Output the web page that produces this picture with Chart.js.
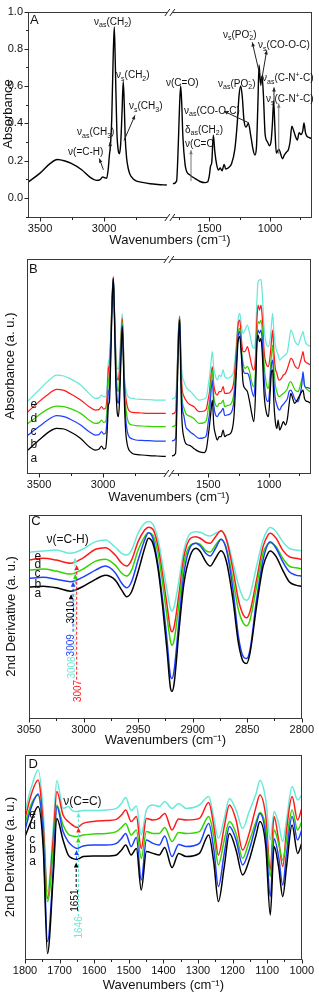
<!DOCTYPE html>
<html><head><meta charset="utf-8">
<script src="https://cdn.jsdelivr.net/npm/chart.js@4.4.0/dist/chart.umd.min.js"></script>
<style>
html,body{margin:0;padding:0;background:#fff;width:319px;height:992px;overflow:hidden;position:relative}
canvas{position:absolute;left:0}
</style></head><body>
<canvas id="cA" width="319" height="250" style="top:0px"></canvas>
<canvas id="cB" width="319" height="256" style="top:250px"></canvas>
<canvas id="cC" width="319" height="250" style="top:500px"></canvas>
<canvas id="cD" width="319" height="248" style="top:744px"></canvas>
<script>
// ---------------- DATA ----------------
const seriesNames = ['a','b','c','d','e'];
const seriesColors = ['#000000','#2040ff','#33d400','#ff1a1a','#66ead8'];

// Panels A and B: broken wavenumber axis (cm-1)
const wnAB_left = [3600,3500,3420,3365,3305,3260,3175,3110,3060,3030,3012,2995,2980,2968,2958,2950,2940,2930,2920,2912,2900,2890,2880,2870,2860,2850,2842,2835,2823,2810,2797,2770,2745,2700,2640,2580,2510];
const wnAB_right = [1800,1770,1755,1745,1736,1727,1718,1700,1686,1665,1645,1620,1577,1535,1515,1500,1490,1480,1467,1455,1440,1426,1410,1395,1378,1365,1345,1316,1290,1270,1255,1241,1228,1215,1198,1178,1160,1140,1125,1112,1100,1090,1078,1066,1055,1040,1020,1005,990,980,970,960,948,935,925,912,898,882,865,848,835,820,805,790,775,760,745,730,720,708,695,680,665,654];
const ticksAB = [3500,3250,3000,2750,1750,1500,1250,1000,750];
const labelsAB = [3500,3000,1500,1000];

// Panel A absorbance
const specA_left = [0.081,0.133,0.185,0.206,0.198,0.186,0.151,0.111,0.094,0.098,0.112,0.108,0.105,0.15,0.23,0.28,0.42,0.72,0.918,0.72,0.36,0.26,0.237,0.29,0.45,0.625,0.50,0.33,0.21,0.155,0.125,0.10,0.09,0.083,0.076,0.072,0.069];
const specA_right = [0.076,0.09,0.30,0.50,0.601,0.50,0.33,0.18,0.14,0.125,0.115,0.105,0.088,0.082,0.085,0.12,0.17,0.19,0.336,0.25,0.18,0.15,0.16,0.145,0.18,0.155,0.16,0.185,0.26,0.40,0.55,0.601,0.54,0.42,0.38,0.40,0.34,0.26,0.23,0.27,0.50,0.714,0.61,0.653,0.56,0.34,0.30,0.28,0.31,0.40,0.52,0.38,0.24,0.255,0.26,0.235,0.21,0.23,0.245,0.26,0.30,0.385,0.36,0.33,0.31,0.35,0.34,0.36,0.402,0.35,0.33,0.325,0.32,0.319];

// Panel B absorbance (a.u., stacked)
const specB_a_left = [10.7,16.5,20.7,22.3,22,20.7,17.3,13.2,11.5,12,13.5,12,12.3,20.7,34,35.7,55.7,82.3,97.3,80.7,44,30.7,28.2,37.3,57.3,73.2,59,39,20.7,14,11.5,9.8,9.3,9,8.7,8.5,8.3];
const specB_b_left = [18.2,23.2,27,28.7,28.2,27,24,20.7,19,19.3,20.7,19.5,19.8,27.3,40.7,42.3,60.7,84,97.3,82.3,49,37.3,34.8,44,60.7,74,60.7,42.3,27.3,20.7,18.2,17,16.5,16.3,16.2,16,16];
const specB_c_left = [24,29,32.3,33.5,33.2,32.3,29.8,26.5,24.8,25.2,26.5,25.3,25.7,32.3,46.5,48.2,64,84.8,97.3,83.2,54,43.2,40.7,49.8,64,75.7,63.2,45.7,33.2,27.3,24.8,24,23.7,23.5,23.3,23.2,23.2];
const specB_d_left = [29.8,35.7,39.8,41.8,41.3,39.8,36.5,33.2,31.5,31.8,33.2,32,32.3,39,52.3,54,67.3,86.5,98.2,84,57.3,47.3,46.5,54,66.5,77.3,65.7,49,38.2,33.2,31.2,30.3,30.2,30,29.8,29.8,29.8];
const specB_e_left = [35.2,41.5,46.5,49,48.5,47.3,44,39.8,37.3,37.7,39,38.2,38.2,44,55.7,57.3,69,85.7,97.3,84,60.7,52.3,52,59,70.7,79.8,67.3,50.7,42.3,39,37.8,37.3,37,36.8,36.7,36.5,36.5];
const specB_a_right = [8.5,9.8,44,67.3,76.5,47.3,27.3,17.3,14.8,14,13.5,12.3,10.7,10.2,12.3,19,24,29.8,36.5,24,19,16.5,18.2,18.2,21.5,18.2,19,19.8,27.3,49,65.7,68.2,59,45.7,42.3,40.7,35.7,29,25.7,38.2,64,69,65.7,67.3,59,39,29.8,28.2,40.7,50.7,51.5,35.7,25.7,22.3,26.5,21.5,23.2,25.7,24,27.3,34,39.8,37.3,34.8,35.7,37.3,39,40.7,41.5,37.3,36,35.7,35.2,34.8];
const specB_b_right = [16,17.3,47.3,69,77,54,35.7,28.2,23.2,21.5,20.3,19.3,17.3,17.7,19,25.7,29.8,39,46.5,34,29,28.2,29.8,30.7,32.3,28.7,29,29.8,35.7,53.2,68.2,70.7,60.7,52.3,49.8,49.8,47.3,40.7,38.2,47.3,65.7,71.5,69.8,71.5,65.7,47.3,36.5,35.7,45.7,54,56.5,45.7,37.3,34,32.3,31.5,33.2,34.3,35.7,37.3,40.7,41.5,39.8,37.3,36,35.7,39,44,50.7,44,42.7,42.7,42.3,42.3];
const specB_c_right = [23.2,24,50.7,70.7,77.3,55.7,39,32.3,29.8,28.7,28.2,27.3,24.8,25.2,26.5,32.3,35.7,44,51.5,38.2,34,33.2,34.8,34.8,36.5,33.2,33.7,34.3,39.8,55.7,69.8,72.3,62.3,55.7,52.3,53.2,50.7,44.8,43.2,50.7,69,75.7,74.8,76.5,70.7,54,44,42.3,50.7,59,64,52.3,44,40.7,38.7,38.2,39,39.8,40.7,42.3,44.8,45.7,44,42,41,40.7,43.2,46.5,48.2,44,42.3,41.5,40.7,40.2];
const specB_d_right = [29.5,30.7,54,72.3,78.2,59,44,38.2,36.5,34.8,34,33.2,30.7,31,32.3,37.3,40.7,47.3,53.2,44,39.8,39,40.7,40.7,43.2,39.8,39.8,40.7,45.7,60.7,74,76.5,67.3,60.7,60.7,63.2,59,53.2,51.5,57.3,75.7,84,81.5,84,77.3,60.7,54,53.2,59,65.7,71.5,60.7,52.3,49.8,47.3,46.5,47.3,49,49.8,52.3,54.8,57.3,56.5,54,52.7,52.3,54.8,58.2,60.7,56.5,55.3,54.8,54.3,54];
const specB_e_right = [37,38.2,55.7,72.3,78.7,64,50.7,45.7,43.2,41.5,40.7,39,36.5,37,38.2,44,48.2,54,60.7,52.3,48.2,46.5,49,48.2,51.5,48.2,47.3,48.2,51.5,64,76.5,79.8,74,69.8,71.5,74,69.8,64,62.3,66.5,85.7,95.7,96.5,96.8,89,72.3,64,63.2,67.3,74,79.8,70.7,64,60.7,59,56.5,57.3,58.2,59,60.7,65.7,71.5,69.8,66.5,64.8,64,66.5,69,70.7,67.3,64.8,64,63.5,63.2];

// Panel C: 2nd derivative, 3050-2800 cm-1
const wnC = [3050,3037,3025,3012,3001,2989,2980,2971,2965,2960.5,2956,2950,2944,2940.5,2936.5,2932,2927.5,2923.5,2920.5,2919,2917,2912.5,2908,2902,2897,2893,2888,2884,2879,2874,2869,2863,2858,2853.5,2850.5,2847.5,2841.5,2835.5,2831,2829,2823.5,2817.5,2811.5,2805.5,2800];
const specC_a = [65.2,65.8,65,63.3,65.5,69.2,71.2,68.8,63.8,60.5,63,73,84.7,89.7,87.2,75.5,55.5,33.8,15.5,13.3,17.2,43.8,67.2,81.3,84.7,83,78,75.8,79.7,83.5,78,58.8,37.2,28,27.2,32.2,55.5,75.5,82.2,83.3,80.5,73.8,68,66.3,65.8];
const specC_b = [69.7,70.2,69.2,68,70.2,73.8,75.8,72.5,67.2,65,68,78.8,88.8,92.5,89.7,77.2,58.8,38.8,21.3,19.7,23.8,48.8,72.2,85.5,87.2,85.8,82.2,80.8,84.7,89.2,83.8,63.8,40.5,30.5,29.7,33.8,58.8,78.8,86.8,88,84.7,78,73,71.3,70.8];
const specC_c = [73.8,74.3,73.3,71.8,74.2,78.3,79.2,76.3,72.2,70.8,73.8,83.8,90.5,92.5,91.3,83,67.2,50.5,38.8,36.3,38.8,57.2,77.2,86.3,87.2,86.7,83.5,82.8,86.3,89.2,84.7,68.8,53.8,47.2,46,48.8,65.5,82.2,86.8,87.5,85.5,79.7,75.8,75,74.5];
const specC_d = [78.8,79.7,78.8,77.2,79.7,84.2,85,81.3,77.2,75.8,78.8,88,93.8,95.2,94.2,86.3,71.3,56.3,44.7,43,45.5,62.2,80.5,89.7,90.5,89.7,87.7,87.2,90.5,93.5,88.8,73.8,58.8,51.3,50,53,68.8,85.5,91.3,92.2,89.7,83.8,80.5,79.7,79.2];
const specC_e = [82.7,83.3,83.8,82.2,84.2,88,88.8,85.2,82.2,81.3,83.8,92.2,97.2,98,96.8,89.7,76.3,63.8,54.7,53.3,55.5,68.8,83.8,92.2,93,92.7,91.3,90.8,92.2,93.3,89.7,77.2,66.3,59.7,58.8,61.3,75.5,88.8,94.2,95,93,88,84.7,83.8,83.5];

// Panel D: 2nd derivative, 1800-1000 cm-1
const wnD = [1800,1781,1762,1747,1735,1718,1708,1690,1675,1663,1649,1632,1603,1565,1536,1521,1509,1493,1478,1464,1449,1430,1412,1396,1375,1356,1334,1296,1269,1254,1241,1224,1209,1190,1171,1152,1132,1121,1104,1091,1080,1067,1055,1044,1028,1012,1000];
const specD_a = [61.2,69.5,76.2,54.5,2.8,42.8,70.3,59.5,52,50.3,49.8,51.2,51.5,51.5,52,54.5,57,52,55.3,34.5,53.7,52.8,52,55.8,45.7,52.8,51.2,52.8,62,47.8,28.7,46.2,62.8,54.5,42,49.5,62,68.7,56.2,22,56.2,46.2,31.2,46.2,67,52.8,57.8];
const specD_b = [64.5,76.2,82.5,59.5,8.7,46.2,76.2,63.7,58.7,56.5,55.3,56.5,57,57,57.8,60.3,62.8,56.2,60.8,39.5,59.5,57.8,57,61.5,51.2,57.3,56.2,57.8,67.8,54.5,36.2,52.8,66.2,59.5,47,54.5,67,72.8,61.2,31.2,60.3,51.2,37,52.8,71.2,59.5,64.5];
const specD_c = [67.8,77.8,82,61.2,28.7,54.5,77,67,62.5,61.5,61.2,62,62.5,62.8,63.7,65.8,67.8,62,64.5,50.3,63.7,62.8,62.8,65.8,58.7,63.3,62.8,63.7,71.2,61.2,47,59.5,68.7,62.8,50.3,58.7,68.7,73.3,65.3,41.2,64.5,57.8,49.5,59.5,74.5,64.5,68.7];
const specD_d = [70.3,82.8,89.5,66.2,30.3,61.2,83.7,72,68.7,67,65.8,67.8,68.7,69.2,69.8,72,74.5,68.7,71.2,55.3,70.3,69.5,70.3,72.8,64.5,70,69.5,70.3,78.2,66.2,52,66.2,77,69.5,54.5,62.8,76.2,82,71.2,44.5,71.2,59.5,46.2,64.5,81.2,69.5,75.3];
const specD_e = [73.7,86.2,94.5,72.8,33.7,66.2,89.2,75.3,76.2,74.2,73.7,74.2,74.2,74.5,75.3,77.8,80.8,74.2,76.5,62,74.5,77,76.2,78.7,75.3,77.8,75.3,77,81.2,70.3,60.3,70.3,80.3,74.5,65.3,73.7,82.8,89.2,79.5,59.5,73.7,67.8,58.7,69.5,86.2,79.5,82];

// ---------------- HELPERS ----------------
const FF = '"Liberation Sans", Arial, Helvetica, sans-serif';
const BREAK_U = 2486;
function toU(w){ return w >= 2000 ? w : 2462 - (1800 - w) * 0.948; }
function fromU(u){ return u >= BREAK_U ? u : 1800 - (2462 - u) / 0.948; }
function brokenData(wl, vl, wr, vr){
  const d = wl.map((w,i)=>({x: toU(w), y: vl[i]}));
  d.push({x: BREAK_U, y: null});
  wr.forEach((w,i)=>d.push({x: toU(w), y: vr[i]}));
  return d;
}
function plainData(w, v){ return w.map((x,i)=>({x:x, y:v[i]})); }
function ds(data, color, lw){
  return {data, borderColor: color, borderWidth: lw, pointRadius: 0, fill: false,
          cubicInterpolationMode: 'monotone', spanGaps: false};
}

function parseRich(s){
  const parts=[]; let i=0, buf='';
  while(i<s.length){
    const c=s[i];
    if((c==='_'||c==='^') && s[i+1]==='{'){
      if(buf){parts.push({t:buf}); buf='';}
      const j=s.indexOf('}',i);
      parts.push({t:s.slice(i+2,j), sub:c==='_', sup:c==='^'});
      i=j+1;
    } else { buf+=c; i++; }
  }
  if(buf) parts.push({t:buf});
  for(let k=1;k<parts.length;k++) if(parts[k].sup && parts[k-1].sub) parts[k].over=true;
  return parts;
}
function drawRich(ctx, s, x, y, size, color, align){
  const parts=parseRich(s); const small=Math.round(size*0.68);
  ctx.fillStyle=color; ctx.textBaseline='middle'; ctx.textAlign='left';
  let total=0, lastW=0;
  parts.forEach(p=>{ ctx.font=((p.sub||p.sup)?small:size)+'px '+FF; const w=ctx.measureText(p.t).width;
    if(p.over){ total+=Math.max(0,w-lastW); } else { total+=w; lastW=w; } });
  let cx = align==='center' ? x-total/2 : (align==='right' ? x-total : x);
  let prevStart=cx, prevW=0;
  parts.forEach(p=>{
    const sz=(p.sub||p.sup)?small:size; ctx.font=sz+'px '+FF;
    const dy=p.sub? size*0.32 : (p.sup? -size*0.36 : 0);
    const w=ctx.measureText(p.t).width;
    if(p.over){ ctx.fillText(p.t, prevStart, y+dy); if(w>prevW) cx=prevStart+w; }
    else { ctx.fillText(p.t, cx, y+dy); prevStart=cx; prevW=w; cx+=w; }
  });
}
function arrowLine(ctx,x1,y1,x2,y2,color,head){
  head = head||4.5;
  ctx.strokeStyle=color; ctx.fillStyle=color; ctx.lineWidth=1; ctx.setLineDash([]);
  ctx.beginPath(); ctx.moveTo(x1,y1); ctx.lineTo(x2,y2); ctx.stroke();
  const a=Math.atan2(y2-y1,x2-x1);
  ctx.beginPath(); ctx.moveTo(x2,y2);
  ctx.lineTo(x2-head*Math.cos(a-0.42), y2-head*Math.sin(a-0.42));
  ctx.lineTo(x2-head*Math.cos(a+0.42), y2-head*Math.sin(a+0.42));
  ctx.closePath(); ctx.fill();
}
function upHead(ctx,x,y,color){
  ctx.fillStyle=color; ctx.beginPath(); ctx.moveTo(x,y); ctx.lineTo(x-2.3,y+5); ctx.lineTo(x+2.3,y+5); ctx.closePath(); ctx.fill();
}

// per-canvas decoration settings (kept outside Chart options)
const DECOR = {};

const decorPlugin = {
  id: 'decor',
  afterDraw(chart){
    const cfg = DECOR[chart.canvas.id]; if(!cfg) return;
    const ctx = chart.ctx, ca = chart.chartArea, xs = chart.scales.x, ys = chart.scales.y;
    const xm = cfg.xMap || (v=>v);
    const X = w => xs.getPixelForValue(xm(w)), Y = v => ys.getPixelForValue(v);
    ctx.save();
    // frame
    ctx.strokeStyle='#3a3a3a'; ctx.lineWidth=1; ctx.setLineDash([]);
    ctx.strokeRect(Math.round(ca.left)+0.5, Math.round(ca.top)+0.5, Math.round(ca.right)-Math.round(ca.left)-1, Math.round(ca.bottom)-Math.round(ca.top));
    const bot = Math.round(ca.bottom)+0.5;
    // x tick marks
    ctx.strokeStyle='#222';
    xs.ticks.forEach(t=>{
      const p=Math.round(xs.getPixelForValue(t.value))+0.5; const len = t.label ? 4 : 2.5;
      ctx.beginPath(); ctx.moveTo(p,bot); ctx.lineTo(p,bot+len); ctx.stroke();
    });
    if(cfg.yTicks){
      const l = Math.round(ca.left)+0.5;
      ys.ticks.forEach(t=>{
        const p=Math.round(ys.getPixelForValue(t.value))+0.5; const len = t.label ? 4 : 2.5;
        ctx.beginPath(); ctx.moveTo(l,p); ctx.lineTo(l-len,p); ctx.stroke();
      });
    }
    // axis break marks
    if(cfg.breakMark){
      const bx = xs.getPixelForValue(BREAK_U);
      [Math.round(ca.top)+0.5, bot].forEach(yy=>{
        ctx.fillStyle='#fff'; ctx.fillRect(bx-3, yy-1.5, 6, 3);
        ctx.strokeStyle='#222'; ctx.lineWidth=1;
        [-2.5,2.5].forEach(dx=>{ ctx.beginPath(); ctx.moveTo(bx+dx-2.5, yy+3.5); ctx.lineTo(bx+dx+2.5, yy-3.5); ctx.stroke(); });
      });
    }
    // dashed lines
    (cfg.dashes||[]).forEach(d=>{
      ctx.strokeStyle=d.c; ctx.lineWidth=1; ctx.setLineDash([3,2]);
      ctx.beginPath(); ctx.moveTo(X(d.x), Y(d.y1)); ctx.lineTo(X(d.x), Y(d.y2)); ctx.stroke();
    });
    ctx.setLineDash([]);
    (cfg.heads||[]).forEach(h=> upHead(ctx, X(h.x), Y(h.y), h.c));
    (cfg.arrows||[]).forEach(a=> arrowLine(ctx, X(a.x1), Y(a.y1), X(a.x2), Y(a.y2), a.c||'#222'));
    (cfg.texts||[]).forEach(t=>{
      const px=X(t.x), py=Y(t.y);
      if(t.rot){
        ctx.save(); ctx.translate(px,py); ctx.rotate(-Math.PI/2);
        drawRich(ctx, t.s, 0, 0, t.size||10, t.c||'#111', 'center'); ctx.restore();
      } else drawRich(ctx, t.s, px, py, t.size||10, t.c||'#111', t.align||'left');
    });
    ctx.restore();
  }
};

function xTitle(){ return {display:true, text:'Wavenumbers (cm\u207B\u00B9)', color:'#111', font:{size:13, family:FF, lineHeight:1}, padding:0}; }
function yTitle(text, padTop){ return {display:true, text, color:'#111', font:{size:13, family:FF, lineHeight:1}, padding:{top:padTop, bottom:0}}; }

function makeChart(id, datasets, o){
  return new Chart(document.getElementById(id), {
    type:'line',
    data:{datasets},
    options:{
      responsive:false, animation:false, devicePixelRatio:1,
      layout:{padding:o.pad},
      plugins:{legend:{display:false}, tooltip:{enabled:false}},
      elements:{line:{tension:0.3}},
      scales:{
        x:{type:'linear', min:o.xMin, max:o.xMax, reverse:true,
           afterBuildTicks: o.xTicks ? (s=>{ s.ticks = o.xTicks.map(v=>({value:v})); }) : undefined,
           afterFit: s=>{ s.height = o.xH; },
           grid:{display:false, drawTicks:false}, border:{display:false},
           ticks:{autoSkip:false, maxRotation:0, minRotation:0, padding:o.xPad, stepSize:o.xStep, color:'#111', font:{size:11, family:FF}, callback:o.xLabel},
           title:xTitle()},
        y:{type:'linear', min:o.yMin, max:o.yMax,
           afterFit: s=>{ s.width = o.yW; },
           grid:{display:false, drawTicks:false}, border:{display:false},
           ticks:{display:!!o.yLabel, stepSize:o.yStep, padding:5, color:'#111', font:{size:11, family:FF}, callback:o.yLabel},
           title:yTitle(o.yTitle, o.yTitlePad)}
      }
    },
    plugins:[decorPlugin]
  });
}

// ---------------- PANEL A ----------------
DECOR.cA = {
  xMap: toU, yTicks: true, breakMark: true,
  texts: [
    {x:3578, y:0.953, s:'A', size:13},
    {x:3281, y:0.246, s:'\u03BD(=C-H)'},
    {x:3211, y:0.35, s:'\u03BD_{as}(CH_{3})'},
    {x:3078, y:0.943, s:'\u03BD_{as}(CH_{2})'},
    {x:2906, y:0.657, s:'\u03BD_{s}(CH_{2})'},
    {x:2805, y:0.49, s:'\u03BD_{s}(CH_{3})'},
    {x:1857, y:0.615, s:'\u03BD(C=O)'},
    {x:1708, y:0.465, s:'\u03BD_{as}(CO-O-C)'},
    {x:1700, y:0.365, s:'\u03B4_{as}(CH_{2})'},
    {x:1700, y:0.287, s:'\u03BD(C=C'},
    {x:1428, y:0.61, s:'\u03BD_{as}(PO_{2}^{-})'},
    {x:1387, y:0.875, s:'\u03BD_{s}(PO_{2}^{-})'},
    {x:1099, y:0.818, s:'\u03BD_{s}(CO-O-C)'},
    {x:1066, y:0.641, s:'\u03BD_{as}(C-N^{+}-C)'},
    {x:1033, y:0.527, s:'\u03BD_{s}(C-N^{+}-C)'}
  ],
  arrows: [
    {x1:3005, y1:0.151, x2:3037, y2:0.211},
    {x1:2951, y1:0.255, x2:2953, y2:0.30},
    {x1:2844, y1:0.308, x2:2758, y2:0.443},
    {x1:1173, y1:0.402, x2:1379, y2:0.465},
    {x1:1651, y1:0.09, x2:1651, y2:0.256, c:'#777'},
    {x1:1088, y1:0.671, x2:1146, y2:0.835},
    {x1:1077, y1:0.601, x2:1027, y2:0.792},
    {x1:967, y1:0.506, x2:967, y2:0.593},
    {x1:928, y1:0.236, x2:928, y2:0.506, c:'#777'}
  ]
};
makeChart('cA', [ds(brokenData(wnAB_left, specA_left, wnAB_right, specA_right), '#000', 1.4)], {
  pad:{left:0, right:7, top:5, bottom:2.8}, xMin:toU(654), xMax:3594, yMin:-0.1, yMax:1.0,
  xTicks: ticksAB.map(toU), xH:30.7, xPad:6,
  xLabel: v=>{ const w=Math.round(fromU(v)); return labelsAB.includes(w) ? String(w) : ''; },
  yW:28, yStep:0.1, yTitle:'Absorbance', yTitlePad:1.8,
  yLabel: v=>{ const k=Math.round(v*10); return (k%2===0 && k>=0) ? (k/10).toFixed(1) : ''; }
});

// ---------------- PANEL B ----------------
const B_left = [specB_a_left, specB_b_left, specB_c_left, specB_d_left, specB_e_left];
const B_right = [specB_a_right, specB_b_right, specB_c_right, specB_d_right, specB_e_right];
DECOR.cB = {
  xMap: toU, breakMark: true,
  texts: [
    {x:3578, y:102, s:'B', size:13},
    {x:3566, y:7.3, s:'a', size:12}, {x:3566, y:14, s:'b', size:12}, {x:3566, y:20.7, s:'c', size:12},
    {x:3566, y:27.3, s:'d', size:12}, {x:3566, y:34, s:'e', size:12}
  ]
};
makeChart('cB', seriesNames.map((n,i)=>ds(brokenData(wnAB_left, B_left[i], wnAB_right, B_right[i]), seriesColors[i], 1.25)), {
  pad:{left:0, right:8, top:9, bottom:2.5}, xMin:toU(654), xMax:3594, yMin:0, yMax:107,
  xTicks: ticksAB.map(toU), xH:30.5, xPad:5,
  xLabel: v=>{ const w=Math.round(fromU(v)); return labelsAB.includes(w) ? String(w) : ''; },
  yW:27, yTitle:'Absorbance (a. u.)', yTitlePad:3.5
});

// ---------------- PANEL C ----------------
const C_specs = [specC_a, specC_b, specC_c, specC_d, specC_e];
DECOR.cC = {
  dashes: [
    {x:3011.4, y1:61, y2:58.5, c:'#000'},
    {x:3009.6, y1:67, y2:42, c:'#2040ff'},
    {x:3007.5, y1:71, y2:66, c:'#33d400'},
    {x:3006.3, y1:75.5, y2:19, c:'#ff1a1a'},
    {x:3007.8, y1:79.5, y2:31, c:'#66ead8'}
  ],
  heads: [
    {x:3011.4, y:61.8, c:'#000'}, {x:3009.6, y:68, c:'#2040ff'}, {x:3007.5, y:71.8, c:'#33d400'},
    {x:3006.3, y:76.3, c:'#ff1a1a'}, {x:3007.8, y:80, c:'#66ead8'}
  ],
  texts: [
    {x:3048, y:98, s:'C', size:13},
    {x:3045, y:62.2, s:'a', size:12}, {x:3045, y:66.7, s:'b', size:12}, {x:3045, y:72.2, s:'c', size:12},
    {x:3045, y:76.3, s:'d', size:12}, {x:3045, y:80.5, s:'e', size:12},
    {x:3034, y:88.8, s:'\u03BD(=C-H)', size:12},
    {x:3011.7, y:52.7, s:'3010', size:10, rot:true, c:'#000'},
    {x:3011.4, y:36.3, s:'3009', size:10, rot:true, c:'#2040ff'},
    {x:3010.8, y:25.2, s:'3008', size:10, rot:true, c:'#66ead8'},
    {x:3004.8, y:13.5, s:'3007', size:10, rot:true, c:'#ff1a1a'}
  ]
};
makeChart('cC', seriesNames.map((n,i)=>ds(plainData(wnC, C_specs[i]), seriesColors[i], 1.5)), {
  pad:{left:0, right:13, top:15, bottom:3.5}, xMin:2800, xMax:3050, yMin:0, yMax:101.3,
  xStep:25, xH:28.5, xPad:5,
  xLabel: v=> (v%50===0) ? String(v) : '',
  yW:29, yTitle:'2nd Derivative (a. u.)', yTitlePad:4.5
});

// ---------------- PANEL D ----------------
const D_specs = [specD_a, specD_b, specD_c, specD_d, specD_e];
DECOR.cD = {
  dashes: [
    {x:1652, y1:47.5, y2:34.7, c:'#000'},
    {x:1651, y1:53.8, y2:49, c:'#2040ff'},
    {x:1646, y1:60, y2:55, c:'#33d400'},
    {x:1645.3, y1:65, y2:61, c:'#ff1a1a'},
    {x:1645.3, y1:72.5, y2:21.3, c:'#66ead8'}
  ],
  heads: [
    {x:1652, y:48.2, c:'#000'}, {x:1651, y:54.5, c:'#2040ff'}, {x:1646, y:60.8, c:'#33d400'},
    {x:1645.3, y:65.8, c:'#ff1a1a'}, {x:1645.3, y:73.2, c:'#66ead8'}
  ],
  texts: [
    {x:1790, y:97.5, s:'D', size:13},
    {x:1787.5, y:48.7, s:'a', size:12}, {x:1787.5, y:54.5, s:'b', size:12}, {x:1787.5, y:59.8, s:'c', size:12},
    {x:1787.5, y:66.5, s:'d', size:12}, {x:1787.5, y:72, s:'e', size:12},
    {x:1689.5, y:78.7, s:'\u03BD(C=C)', size:12},
    {x:1656, y:29.2, s:'1651', size:10, rot:true, c:'#000'},
    {x:1644, y:15.8, s:'1646', size:10, rot:true, c:'#66ead8'}
  ]
};
makeChart('cD', seriesNames.map((n,i)=>ds(plainData(wnD, D_specs[i]), seriesColors[i], 1.5)), {
  pad:{left:0, right:16, top:11, bottom:0}, xMin:1000, xMax:1800, yMin:0, yMax:102,
  xStep:50, xH:33, xPad:5,
  xLabel: v=> (v%100===0) ? String(v) : '',
  yW:25, yTitle:'2nd Derivative (a. u.)', yTitlePad:3.5
});
</script>
</body></html>
